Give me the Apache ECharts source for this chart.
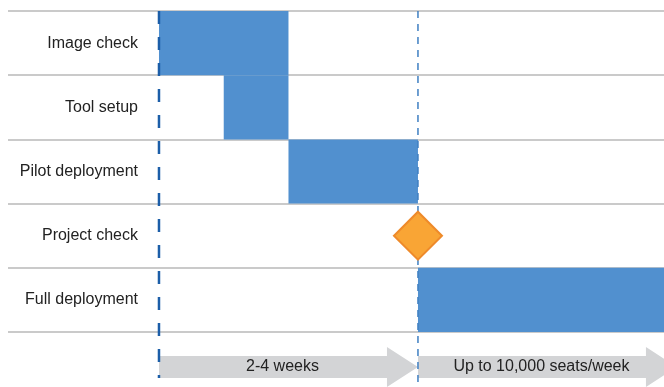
<!DOCTYPE html>
<html>
<head>
<meta charset="utf-8">
<script src="https://cdn.jsdelivr.net/npm/echarts@6/dist/echarts.min.js"></script>
<style>
  html, body { margin: 0; padding: 0; background: #fff; }
  #chart { width: 664px; height: 387px; }
</style>
</head>
<body>
<div id="chart"></div>
<script>
// rows of the plan, top to bottom
const tasks = ['Image check', 'Tool setup', 'Pilot deployment', 'Project check', 'Full deployment']
// task spans in weeks (null = no bar)
const taskStart = [0, 1, 2, null, 4]
const taskEnd = [2, 2, 4, null, 8]
// milestone
const milestoneTask = 'Project check'
const milestoneAt = 4
// phase arrows along the bottom
const phaseLabels = ['2-4 weeks', 'Up to 10,000 seats/week']
const phaseStart = [0, 4]
const phaseEnd = [4, 8]
// dashed marker lines
const markerAt = [0, 4]

const font = 'Liberation Sans, Arial, sans-serif'
const X_MIN = -2.332
const X_MAX = 7.8

let barData = []
for (let i = 0; i < tasks.length; i++) {
    if (taskStart[i] !== null) barData.push([i, taskStart[i], taskEnd[i]])
}
let phaseData = phaseLabels.map((l, i) => [phaseStart[i], phaseEnd[i]])

const chart = echarts.init(document.getElementById('chart'), null, { renderer: 'canvas' })
chart.setOption({
    animation: false,
    grid: [
        { left: 8, right: 0, top: 11, height: 321 },
        { left: 8, right: 0, top: 347, bottom: 0 },
    ],
    xAxis: [{
        type: 'value', gridIndex: 0, min: X_MIN, max: X_MAX, show: false,
    }, {
        type: 'value', gridIndex: 1, min: X_MIN, max: X_MAX, show: false,
    }],
    yAxis: [{
        type: 'category',
        gridIndex: 0,
        data: tasks,
        inverse: true,
        offset: -130,
        axisLine: { show: false },
        axisTick: { show: false },
        axisLabel: {
            margin: 0,
            color: '#222',
            fontSize: 16,
            fontFamily: font,
        },
        splitLine: {
            show: true,
            interval: 0,
            lineStyle: { color: '#b8b8b8', width: 1.5 },
        },
    }, {
        type: 'value', gridIndex: 1, min: 0, max: 1, show: false,
    }],
    series: [{
        // task bars
        type: 'custom',
        xAxisIndex: 0,
        yAxisIndex: 0,
        z: 2,
        encode: { x: [1, 2], y: 0 },
        data: barData,
        renderItem(params, api) {
            let cat = api.value(0)
            let s = api.coord([api.value(1), cat])
            let e = api.coord([api.value(2), cat])
            let h = api.size([0, 1])[1]
            let rect = echarts.graphic.clipRectByRect({
                x: s[0], y: s[1] - h / 2, width: e[0] - s[0], height: h,
            }, params.coordSys)
            return rect && { type: 'rect', shape: rect, style: { fill: '#5190cf' } }
        },
    }, {
        // phase arrows
        type: 'custom',
        xAxisIndex: 1,
        yAxisIndex: 1,
        z: 2,
        clip: false,
        encode: { x: [0, 1] },
        data: phaseData,
        renderItem(params, api) {
            let cs = params.coordSys
            let x0 = api.coord([api.value(0), 0.5])[0]
            let x1 = api.coord([api.value(1), 0.5])[0]
            let cy = cs.y + cs.height / 2
            let head = 31
            let bh = 11
            let hh = 20
            return {
                type: 'group',
                children: [{
                    type: 'polygon',
                    shape: {
                        points: [
                            [x0, cy - bh], [x1 - head, cy - bh], [x1 - head, cy - hh], [x1, cy],
                            [x1 - head, cy + hh], [x1 - head, cy + bh], [x0, cy + bh],
                        ],
                    },
                    style: { fill: '#d3d4d6' },
                }, {
                    type: 'text',
                    style: {
                        x: (x0 + x1) / 2 - 6,
                        y: cy,
                        text: phaseLabels[params.dataIndex],
                        align: 'center',
                        verticalAlign: 'middle',
                        fill: '#222',
                        font: '16px ' + font,
                    },
                }],
            }
        },
    }, {
        // dashed marker lines
        type: 'custom',
        xAxisIndex: 0,
        yAxisIndex: 0,
        z: 5,
        clip: false,
        encode: { x: 0 },
        data: markerAt.map(v => [v]),
        renderItem(params, api) {
            let cs = params.coordSys
            let x = api.coord([api.value(0), 0])[0]
            let first = params.dataIndex === 0
            return {
                type: 'line',
                shape: { x1: x, y1: cs.y, x2: x, y2: cs.y + cs.height + (first ? 46 : 56) },
                style: first
                    ? { stroke: '#1c5ea8', lineWidth: 2.5, lineDash: [13, 13] }
                    : { stroke: '#3f7fc2', lineWidth: 1.5, lineDash: [7, 6] },
            }
        },
    }, {
        // milestone diamond
        type: 'scatter',
        xAxisIndex: 0,
        yAxisIndex: 0,
        z: 8,
        symbol: 'diamond',
        symbolSize: 48,
        itemStyle: { color: '#f9a535', borderColor: '#ee8a2a', borderWidth: 2, opacity: 1 },
        data: [[milestoneAt, milestoneTask]],
    }],
})
</script>
</body>
</html>
